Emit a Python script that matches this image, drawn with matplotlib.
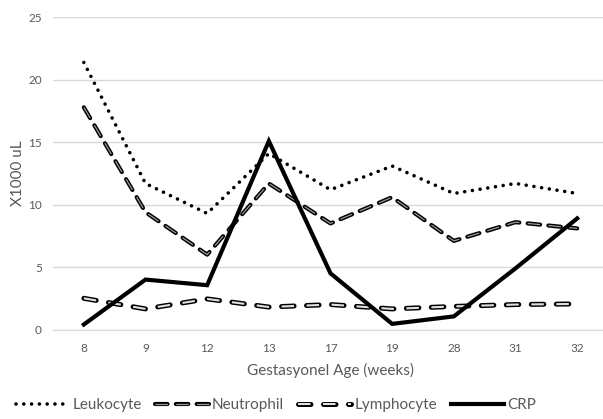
import matplotlib.pyplot as plt
from matplotlib.lines import Line2D
from matplotlib.legend_handler import HandlerTuple

plt.rcParams['font.family'] = ['Lato', 'DejaVu Sans']
plt.rcParams['lines.scale_dashes'] = False

weeks = ['8', '9', '12', '13', '17', '19', '28', '31', '32']
leukocyte = [21.4, 11.7, 9.3, 14.1, 11.2, 13.1, 10.9, 11.7, 10.9]
neutrophil = [17.8, 9.4, 6.0, 11.7, 8.5, 10.6, 7.1, 8.6, 8.1]
lymphocyte = [2.5, 1.65, 2.45, 1.8, 2.0, 1.65, 1.85, 2.0, 2.05]
crp = [0.4, 4.0, 3.55, 15.1, 4.5, 0.45, 1.05, 4.9, 8.9]

grey = '#595959'

# line styles; the dashed series get a lighter core drawn on top
dots = dict(color='black', lw=2.6, linestyle=(0, (0.01, 5.6)), dash_capstyle='round')
neu_out = dict(color='black', lw=3.0, linestyle=(0, (9, 6)), dash_capstyle='round')
neu_in = dict(color='#9a9a9a', lw=0.9, linestyle=(0, (9, 6)), dash_capstyle='butt')
lym_out = dict(color='black', lw=3.6, linestyle=(0, (9, 9)), dash_capstyle='round')
lym_in = dict(color='#e0e0e0', lw=1.5, linestyle=(0, (9, 9)), dash_capstyle='butt')
solid = dict(color='black', lw=3.0, solid_joinstyle='miter')

fig = plt.figure(figsize=(6.03, 4.19), dpi=100)
ax = fig.add_axes([53 / 603, 89.5 / 419, 555 / 603, 312 / 419])
x = list(range(len(weeks)))

ax.plot(x, leukocyte, zorder=3, **dots)
ax.plot(x, neutrophil, zorder=3, **neu_out)
ax.plot(x, neutrophil, zorder=3, **neu_in)
ax.plot(x, lymphocyte, zorder=3, **lym_out)
ax.plot(x, lymphocyte, zorder=3, **lym_in)
ax.plot(x, crp, zorder=4, **solid)

ax.set_xlim(-0.5, 8.5)
ax.set_ylim(0, 25)
ax.set_yticks([0, 5, 10, 15, 20, 25])
ax.set_xticks(x)
ax.set_xticklabels(weeks)
ax.grid(axis='y', color='#d9d9d9', lw=1)
ax.set_axisbelow(True)
for s in ['top', 'right', 'left']:
    ax.spines[s].set_visible(False)
ax.spines['bottom'].set_color('#d9d9d9')
ax.tick_params(length=0, colors=grey, labelsize=8.5)
ax.tick_params(axis='x', pad=10)
ax.tick_params(axis='y', pad=8)
ax.set_xlabel('Gestasyonel Age (weeks)', color=grey, fontsize=11, labelpad=6)
ax.set_ylabel('X1000 uL', color=grey, fontsize=11, labelpad=2)

handles = [Line2D([], [], **dots),
           (Line2D([], [], **neu_out), Line2D([], [], **neu_in)),
           (Line2D([], [], **lym_out), Line2D([], [], **lym_in)),
           Line2D([], [], **solid)]
fig.legend(handles, ['Leukocyte', 'Neutrophil', 'Lymphocyte', 'CRP'],
           handler_map={tuple: HandlerTuple(ndivide=1, pad=0)},
           loc='center', bbox_to_anchor=(276 / 603, 14 / 419), ncol=4,
           frameon=False, fontsize=11, handlelength=3.5, handletextpad=0.2,
           columnspacing=0.9, labelcolor=grey)

fig.savefig('out.png', dpi=100)
